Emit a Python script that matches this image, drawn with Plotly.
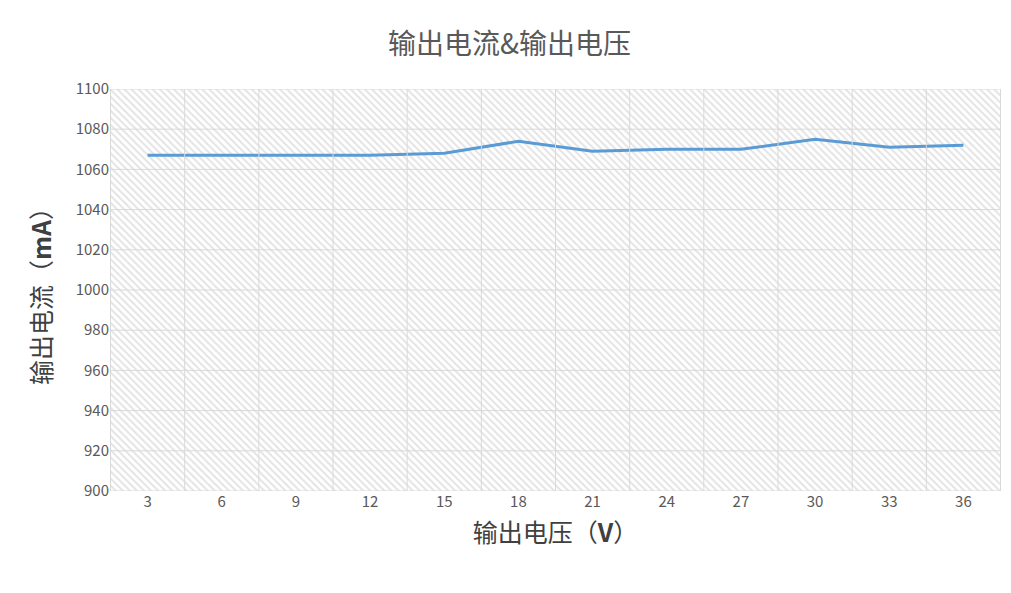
import plotly.graph_objects as go

voltages = ["3","6","9","12","15","18","21","24","27","30","33","36"]
currents = [1067,1067,1067,1067,1068,1074,1069,1070,1070,1075,1071,1072]
y_min, y_max = 900, 1100
y_ticks = list(range(900, 1101, 20))

font = "Noto Sans CJK SC"
fig = go.Figure()
fig.add_trace(go.Bar(x=voltages, y=[y_max - y_min]*len(voltages), base=y_min, width=1,
                     marker=dict(color="white", line=dict(width=0),
                                 pattern=dict(shape="\\", fgcolor="#c8c8c8", bgcolor="white", size=5, solidity=0.4)),
                     hoverinfo="skip", showlegend=False))
# gridlines drawn above the hatch
for i in range(len(voltages) + 1):
    fig.add_shape(type="line", xref="x", yref="paper", x0=i - 0.5, x1=i - 0.5, y0=0, y1=1,
                  line=dict(color="#d9d9d9", width=1), layer="above")
for t in y_ticks:
    fig.add_shape(type="line", xref="paper", yref="y", x0=0, x1=1, y0=t, y1=t,
                  line=dict(color="#d9d9d9", width=1), layer="above")
fig.add_trace(go.Scatter(x=voltages, y=currents, mode="lines",
                         line=dict(color="#5b9bd5", width=3), showlegend=False))
fig.update_layout(
    width=1003, height=585, paper_bgcolor="white", plot_bgcolor="white",
    margin=dict(l=102, r=10, t=81, b=102),
    title=dict(text="输出电流&输出电压", x=0.5, y=0.955, xanchor="center",
               font=dict(family=font, size=28, color="#595959")),
    bargap=0,
    font=dict(family=font, color="#595959"),
)
fig.update_xaxes(title=dict(text="输出电压（<b>V</b>）", font=dict(size=25, color="#404040"), standoff=14),
                 tickfont=dict(size=15, color="#595959"), showgrid=False,
                 showline=False, ticks="")
fig.update_yaxes(title=dict(text="输出电流（<b>mA</b>）", font=dict(size=25, color="#404040"), standoff=16),
                 range=[y_min, y_max], tickvals=y_ticks, tickfont=dict(size=15, color="#595959"),
                 showgrid=False, zeroline=False)
fig.write_html("out.html")
